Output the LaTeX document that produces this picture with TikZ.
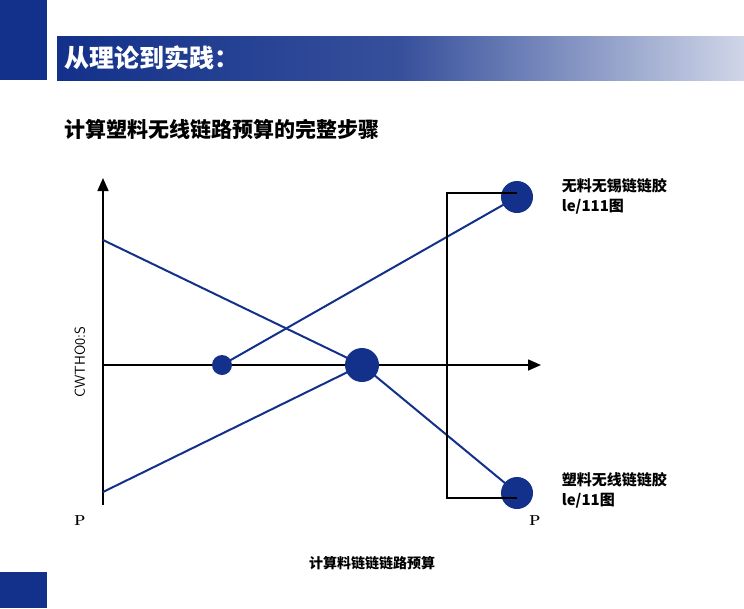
\documentclass[tikz,border=0pt]{standalone}
\usepackage{fontspec}
\newfontfamily\cjk{Noto Sans CJK SC}
\usetikzlibrary{positioning,arrows.meta}
\definecolor{navy}{HTML}{13318A}
\tikzset{
  dotbig/.style={circle,fill=navy,minimum size=34pt,inner sep=0pt},
  dotend/.style={circle,fill=navy,minimum size=32pt,inner sep=0pt},
  dotsmall/.style={circle,fill=navy,minimum size=20pt,inner sep=0pt},
  link/.style={draw=navy,line width=2pt},
  lbl/.style={font=\cjk\bfseries,align=left,anchor=north west,inner sep=0pt},
}
\begin{document}
\begin{tikzpicture}[x=1pt,y=-1pt,line width=1.6pt]
  \useasboundingbox (0,0) rectangle (744,608);
  \fill[white] (0,0) rectangle (744,608);
  % header
  \fill[navy] (0,0) rectangle (47,80);
  \shade[left color=navy,right color=navy!20,middle color=navy!85] (57,36) rectangle (744,80);
  \node[font=\cjk\bfseries\fontsize{25}{28}\selectfont,white,anchor=west] (title) at (60,58) {从理论到实践：};
  \node[font=\cjk\bfseries\fontsize{21}{24}\selectfont,anchor=west] (sub) at (60,129) {计算塑料无线链路预算的完整步骤};
  \fill[navy] (0,572) rectangle (47,608);

  % axes
  \coordinate (origin) at (103,505);
  \coordinate (ytop) at (103,178);
  \coordinate (xl) at (103,365);
  \coordinate (xr) at (541,365);
  \draw[-{Triangle[length=13pt,width=11pt]}] (origin) -- (ytop);
  \draw[-{Triangle[length=13pt,width=11pt]}] (xl) -- (xr);

  % points
  \coordinate (a1) at (103,240);
  \coordinate (a2) at (103,492);
  \node[dotbig] (mid) at (362,365) {};
  \node[dotsmall] (start) at (222,365) {};
  \node[dotend] (top) at (517,197) {};
  \node[dotend] (bot) at (517,493) {};
  \draw[link] (a1) -- (mid.center) -- (bot.center);
  \draw[link] (a2) -- (mid.center);
  \draw[link] (start.center) -- (top.center);

  % bracket
  \coordinate (b1) at (447,193);
  \coordinate (b2) at (447,498);
  \draw (b1 -| top) -- (b1) -- (b2) -- (b2 -| bot);

  % labels
  \node[lbl,font=\cjk\bfseries\fontsize{15}{20}\selectfont] (toplbl) at (561,178) {无料无锡链链胶\\le/111图};
  \node[lbl,font=\cjk\bfseries\fontsize{15}{20}\selectfont] (botlbl) at (561,472) {塑料无线链链胶\\le/11图};
  \node[font=\bfseries\Large] (p1) at (80,521) {P};
  \node[font=\bfseries\Large] (p2) at (535,521) {P};
  \node[rotate=90,font=\sffamily\Large] (ylbl) at (80,362) {CWTHO0:S};
  \node[font=\cjk\bfseries\fontsize{14}{16}\selectfont] (xlbl) at (372,563) {计算料链链链路预算};
\end{tikzpicture}
\end{document}
